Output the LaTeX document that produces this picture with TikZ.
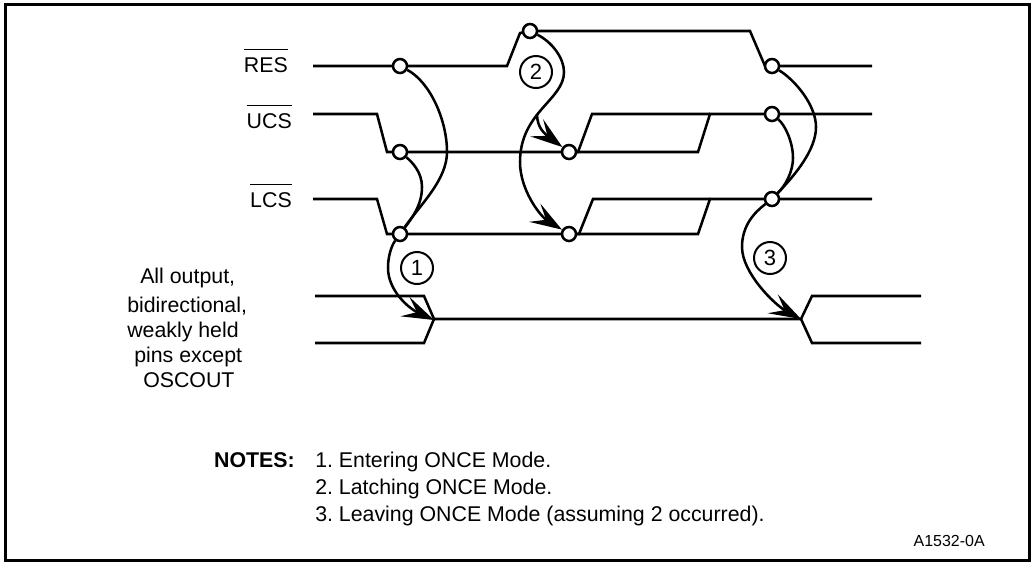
\documentclass[tikz,border=0pt]{standalone}
\usepackage{fontspec}
\setmainfont{Liberation Sans}
\usetikzlibrary{arrows.meta}
\newcommand{\barsig}[1]{$\overline{\rule{0pt}{15.6pt}\mbox{#1}}$}
\frenchspacing
\tikzset{
  wave/.style={line width=1.9pt, line join=miter},
  pin/.style={circle, draw, fill=white, line width=1.9pt, minimum size=10.5pt, inner sep=0pt},
  tag/.style={circle, draw, line width=1.5pt, minimum size=24pt, inner sep=0pt, font=\fontsize{16.5}{18}\selectfont},
  lbl/.style={font=\fontsize{16}{18.75}\selectfont, inner sep=0pt},
  edge/.style={line width=1.9pt},
  arr/.style={edge, -{Stealth[length=24pt, width=16pt, inset=10pt]}},
}
\begin{document}
\begin{tikzpicture}[x=0.75pt, y=-0.75pt]
  \useasboundingbox (0,0) rectangle (1031,562);
  \draw[line width=1.9pt] (5.5,4.5) rectangle (1029.5,560.5);

  % signals
  \draw[wave] (313,66) -- (507,66) -- (520,33) -- (530,31) -- (750,31) -- (765,66) -- (872,66);
  \draw[wave] (313,114) -- (377,114) -- (387,152) -- (698,152) -- (710,114) -- (872,114);
  \draw[wave] (569,152) -- (578,152) -- (592,114) -- (710,114);
  \draw[wave] (313,199) -- (377,199) -- (387,234) -- (698,234) -- (710,199) -- (872,199);
  \draw[wave] (569,234) -- (579,234) -- (593,199) -- (710,199);
  \draw[wave] (315,296) -- (424,296) -- (434,319) -- (801,319) -- (812,296) -- (921,296);
  \draw[wave] (315,343) -- (424,343) -- (434,319);
  \draw[wave] (801,319) -- (812,343) -- (921,343);

  % pins
  \node (resa) [pin] at (400,66) {};
  \node (resb) [pin] at (530,31) {};
  \node (resc) [pin] at (772,66) {};
  \node (ucsa) [pin] at (400,152) {};
  \node (ucsb) [pin] at (569,152) {};
  \node (ucsc) [pin] at (772,114) {};
  \node (lcsa) [pin] at (400,234) {};
  \node (lcsb) [pin] at (569,234) {};
  \node (lcsc) [pin] at (772,199) {};
  \coordinate (enter) at (434,320);
  \coordinate (leave) at (801,319);
  \coordinate (fork)  at (537,114);

  % edges
  \draw[edge] (resa) .. controls (430,82) and (447,120) .. (447,152) .. controls (447,180) and (420,205) .. (lcsa);
  \draw[edge] (ucsa) .. controls (412,162) and (422,172) .. (422,187) .. controls (422,205) and (412,218) .. (lcsa);
  \draw[arr] (lcsa) .. controls (392,245) and (388,255) .. (388,268) .. controls (388,290) and (408,308) .. (enter);
  \draw[arr] (resb) .. controls (552,42) and (564,58) .. (564,72) .. controls (564,100) and (520,112) .. (520,162) .. controls (520,190) and (540,216) .. (lcsb);
  \draw[arr] (fork) .. controls (537,128) and (545,134) .. (ucsb);
  \draw[edge] (resc) .. controls (795,80) and (816,105) .. (816,127) .. controls (816,150) and (795,175) .. (lcsc);
  \draw[edge] (ucsc) .. controls (785,125) and (793,142) .. (793,158) .. controls (793,172) and (785,186) .. (lcsc);
  \draw[arr] (lcsc) .. controls (755,212) and (742,225) .. (742,247) .. controls (742,273) and (775,305) .. (leave);

  % numbers
  \node (one)   [tag] at (417,268) {1};
  \node (two)   [tag] at (536,72)  {2};
  \node (three) [tag] at (770,258) {3};

  % labels
  \node (lres) [lbl, anchor=base east] at (288,72)  {\barsig{RES}};
  \node (lucs) [lbl, anchor=base east] at (292,128) {\barsig{UCS}};
  \node (llcs) [lbl, anchor=base east] at (292,207) {\barsig{LCS}};
  \node (pins) [lbl, align=left, anchor=north west] at (127,268) {\hspace*{9.75pt}All output,\\[3pt]bidirectional,\\weakly held\\\hspace*{5.25pt}pins except\\\hspace*{12pt}OSCOUT};
  \node (ntitle) [lbl, font=\fontsize{16}{18.75}\selectfont\bfseries, anchor=base east] at (295,467) {NOTES:};
  \node (notes) [lbl, font=\fontsize{16}{20}\selectfont, align=left, anchor=north west] at (315,452) {1. Entering ONCE Mode.\\2. Latching ONCE Mode.\\3. Leaving ONCE Mode (assuming 2 occurred).};
  \node (refno) [font=\fontsize{12}{14}\selectfont, inner sep=0pt, anchor=base east] at (985,546) {A1532-0A};
\end{tikzpicture}
\end{document}
